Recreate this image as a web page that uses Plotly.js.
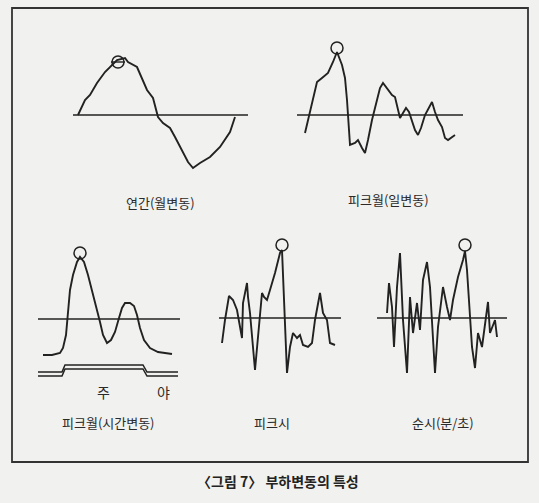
<!DOCTYPE html>
<html><head><meta charset="utf-8">
<script src="https://cdn.plot.ly/plotly-3.0.1.min.js"></script>
<style>html,body{margin:0;padding:0;background:#f1f1ef}#chart{width:539px;height:503px}</style>
</head><body><div id="chart"></div>
<script>
// Panel 1: 연간(월변동)
const p1_t = [5,12,17,24,32,39,44,52,55,64,70,74,80,84,85,90,97,102,109,115,120,127,137,147,157,162];
const p1_v = [0,15,20,32,43,50,55,57,53,48,35,25,17,2,-2,-8,-13,-22,-35,-47,-53,-48,-42,-32,-17,-2];
// Panel 2: 피크월(일변동)
const p2_t = [8,15,20,25,31,36,40,45,48,50,51,53,58,61,65,68,71,75,80,83,86,90,95,98,101,103,106,109,112,115,118,121,124,128,132,135,138,141,145,148,151,155,158];
const p2_v = [-18,10,33,37,42,53,63,50,37,15,-5,-30,-28,-25,-33,-38,-25,-5,15,27,32,27,20,18,7,-3,2,7,3,-7,-15,-20,-13,0,7,13,3,-5,-12,-23,-25,-22,-20];
// Panel 3: 피크월(시간변동)
const p3_t = [5,14,22,25,28,30,32,35,39,42,46,50,54,58,62,65,69,73,77,81,84,87,92,96,99,102,106,112,120,134];
const p3_v = [-36,-36,-34,-29,-16,9,29,44,57,62,57,44,29,14,-3,-16,-24,-21,-13,1,11,16,16,13,4,-9,-21,-29,-33,-35];
const p3_step_t = [0,24,27,105,109,140];
const p3_step_outer = [-53,-53,-46,-46,-53,-53];
const p3_step_inner = [-57,-57,-50,-50,-57,-57];
// Panel 4: 피크시
const p4_t = [3,6,10,14,18,23,24,28,29,31,36,39,43,45,48,51,56,61,63,68,71,74,78,81,84,89,93,96,101,104,108,111,116];
const p4_v = [-25,-2,22,18,8,-20,15,35,21,5,-52,-19,25,21,18,28,45,65,68,-55,-29,-15,-20,-17,-27,-29,-25,-2,25,5,-2,-25,-27];
// Panel 5: 순시(분/초)
const p5_t = [10,12,15,17,20,23,26,30,33,36,40,43,46,50,53,58,61,66,70,73,76,81,86,88,90,95,98,101,105,108,111,113,118,120];
const p5_v = [5,35,11,-29,31,65,-2,-55,21,-15,15,-12,38,56,31,-55,-9,31,11,-2,18,41,58,67,48,-29,-50,-15,-29,-9,16,-15,-2,-19];

const labels = ["연간(월변동)","피크월(일변동)","피크월(시간변동)","피크시","순시(분/초)"];
const caption = "〈그림 7〉 부하변동의 특성";
const shiftLabels = ["주","야"];

const W=539,H=503;
const panels = [
  {box:[55,30,265,190], o:[73,115], len:175, t:p1_t, v:p1_v, pk:[45,53], minus:true},
  {box:[285,30,475,190], o:[297,115], len:166, t:p2_t, v:p2_v, pk:[40,67]},
  {box:[25,235,195,400], o:[38,319], len:142, t:p3_t, v:p3_v, pk:[42,66]},
  {box:[205,235,350,400], o:[219,318], len:122, t:p4_t, v:p4_v, pk:[63,73]},
  {box:[365,235,520,400], o:[377,318], len:130, t:p5_t, v:p5_v, pk:[88,73]}
];
const ink = '#222';
const traces=[]; const layout={
  width:W,height:H,margin:{l:0,r:0,t:0,b:0},
  paper_bgcolor:'#f1f1ef',plot_bgcolor:'rgba(0,0,0,0)',showlegend:false,
  font:{family:'"Noto Sans CJK KR", sans-serif',color:'#2a2a2a'},
  annotations:[],shapes:[]
};
panels.forEach((p,i)=>{
  const n=i+1, xa='x'+(n===1?'':n), ya='y'+(n===1?'':n);
  const xk='xaxis'+(n===1?'':n), yk='yaxis'+(n===1?'':n);
  const [bx0,by0,bx1,by1]=p.box, [ox,oy]=p.o;
  layout[xk]={domain:[bx0/W,bx1/W],range:[bx0-ox,bx1-ox],visible:false,fixedrange:true};
  layout[yk]={domain:[1-by1/H,1-by0/H],range:[oy-by1,oy-by0],visible:false,fixedrange:true};
  traces.push({x:[0,p.len],y:[0,0],xaxis:xa,yaxis:ya,mode:'lines',line:{color:ink,width:1.6},hoverinfo:'skip'});
  traces.push({x:p.t,y:p.v,xaxis:xa,yaxis:ya,mode:'lines',line:{color:ink,width:1.9},hoverinfo:'skip'});
  traces.push({x:[p.pk[0]],y:[p.pk[1]],xaxis:xa,yaxis:ya,mode:'markers',marker:{symbol:'circle-open',size:12,color:ink,line:{width:1.5,color:ink}},hoverinfo:'skip'});
  if(p.minus) traces.push({x:[p.pk[0]],y:[p.pk[1]],xaxis:xa,yaxis:ya,mode:'markers',marker:{symbol:'line-ew',size:10,color:ink,line:{width:1.4,color:ink}},hoverinfo:'skip'});
});
traces.push({x:p3_step_t,y:p3_step_outer,xaxis:'x3',yaxis:'y3',mode:'lines',line:{color:ink,width:1.5},hoverinfo:'skip'});
traces.push({x:p3_step_t,y:p3_step_inner,xaxis:'x3',yaxis:'y3',mode:'lines',line:{color:ink,width:1.5},hoverinfo:'skip'});

const labelPos=[[160,202],[388,200],[108,422],[272,422],[443,422]];
labels.forEach((s,i)=>layout.annotations.push({text:s,xref:'paper',yref:'paper',x:labelPos[i][0]/W,y:1-labelPos[i][1]/H,showarrow:false,xanchor:'center',yanchor:'middle',font:{size:13,color:'#2a2a2a'}}));
[[103,392],[163,392]].forEach((q,i)=>layout.annotations.push({text:shiftLabels[i],xref:'paper',yref:'paper',x:q[0]/W,y:1-q[1]/H,showarrow:false,xanchor:'center',yanchor:'middle',font:{size:14,color:'#2a2a2a'}}));
layout.annotations.push({text:'<b>'+caption+'</b>',xref:'paper',yref:'paper',x:278/W,y:1-481/H,showarrow:false,xanchor:'center',yanchor:'middle',font:{size:14,color:'#222'}});
layout.shapes.push({type:'rect',xref:'paper',yref:'paper',x0:12/W,x1:528/W,y0:1-462/H,y1:1-8/H,line:{color:'#333',width:1.8},fillcolor:'rgba(0,0,0,0)'});
Plotly.newPlot('chart',traces,layout,{staticPlot:true,displayModeBar:false});
</script></body></html>
